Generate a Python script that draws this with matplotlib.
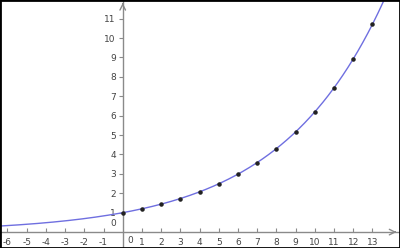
import matplotlib
matplotlib.use("Agg")
import matplotlib.pyplot as plt
import numpy as np

# data
point_x = [0, 1, 2, 3, 4, 5, 6, 7, 8, 9, 10, 11, 12, 13]
point_y = [1.0, 1.2, 1.44, 1.73, 2.07, 2.49, 2.99, 3.58, 4.3, 5.16, 6.19, 7.43, 8.92, 10.7]
growth_base = 1.2  # curve y = base**x through the points
x_ticks = [-6, -5, -4, -3, -2, -1, 1, 2, 3, 4, 5, 6, 7, 8, 9, 10, 11, 12, 13]
y_ticks = [1, 2, 3, 4, 5, 6, 7, 8, 9, 10, 11]

fig = plt.figure(figsize=(4.0, 2.48), dpi=100)
ax = fig.add_axes([0, 0, 1, 1])
ax.set_xlim(-6.39, 14.44)
ax.set_ylim(-0.82, 11.96)

axis_col = "#8a8a8a"
for s in ["top", "right"]:
    ax.spines[s].set_visible(False)
ax.spines["left"].set_position(("data", 0))
ax.spines["bottom"].set_position(("data", 0))
ax.spines["left"].set_color(axis_col)
ax.spines["bottom"].set_color(axis_col)
ax.spines["left"].set_linewidth(1.0)
ax.spines["bottom"].set_linewidth(1.0)

ax.set_xticks(x_ticks)
ax.set_yticks(y_ticks)
ax.set_xticklabels([str(v) for v in x_ticks])
ax.set_yticklabels([str(v) for v in y_ticks])
ax.tick_params(axis="x", direction="in", length=3, width=0.8, color=axis_col,
               labelsize=6.5, labelcolor="#444444", pad=4)
ax.tick_params(axis="y", direction="out", length=3, width=0.8, color=axis_col,
               labelsize=6.5, labelcolor="#444444", pad=2)
ax.text(0.4, -0.22, "0", fontsize=6.5, color="#444444", ha="center", va="top")
ax.text(-0.35, 0.22, "0", fontsize=6.5, color="#444444", ha="right", va="bottom")

# axis arrows
ax.annotate("", xy=(14.4, 0), xytext=(14.0, 0),
            arrowprops=dict(arrowstyle="->", color=axis_col, lw=1.0))
ax.annotate("", xy=(0, 11.95), xytext=(0, 11.6),
            arrowprops=dict(arrowstyle="->", color=axis_col, lw=1.0))

xs = np.linspace(-6.39, 14.44, 400)
ax.plot(xs, growth_base ** xs, color="#6f6fe0", lw=1.0, zorder=3)
ax.scatter(point_x, point_y, s=5, color="#222222", zorder=4)

# black frame around the image
fig.patches.append(plt.Rectangle((0, 0), 1, 1, transform=fig.transFigure,
                                 fill=False, edgecolor="black", lw=2))

fig.savefig("out.png", dpi=100)
